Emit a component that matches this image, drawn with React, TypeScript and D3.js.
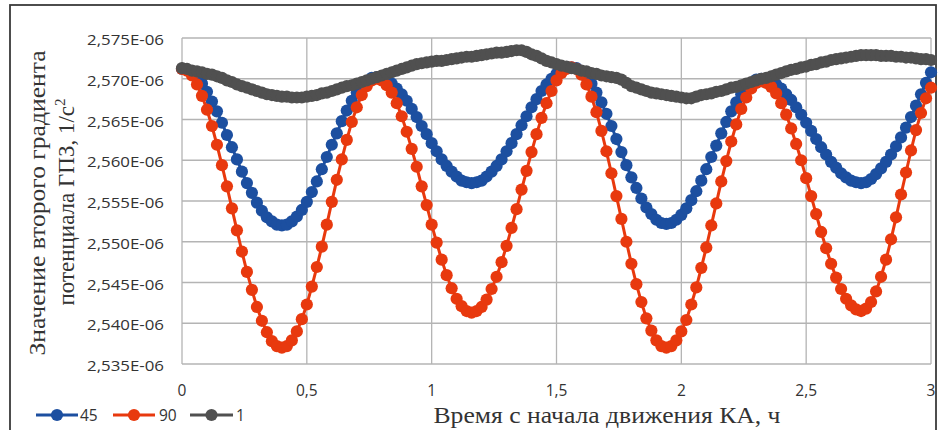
import React from "react";
import * as d3 from "d3";

// values in units of 1E-06 (1/s^2); sampled every TIME_STEP_H hours from 0 to 3 h
const TIME_STEP_H = 0.02;

const series45 = [
  2.5712, 2.5711, 2.5707, 2.5702, 2.5694, 2.5684, 2.5672, 2.5660, 2.5646, 2.5631,
  2.5616, 2.5601, 2.5586, 2.5572, 2.5560, 2.5548, 2.5538, 2.5530, 2.5525, 2.5521,
  2.5520,
  2.5521, 2.5525, 2.5531, 2.5539, 2.5549, 2.5561, 2.5574, 2.5589, 2.5604, 2.5619,
  2.5633, 2.5648, 2.5661, 2.5673, 2.5683, 2.5691, 2.5697, 2.5701, 2.5702,
  2.5701, 2.5698, 2.5694, 2.5688, 2.5681, 2.5673, 2.5663, 2.5653, 2.5642, 2.5632,
  2.5621, 2.5611, 2.5601, 2.5593, 2.5586, 2.5580, 2.5575, 2.5573, 2.5572,
  2.5573, 2.5575, 2.5580, 2.5586, 2.5593, 2.5601, 2.5611, 2.5621, 2.5632, 2.5643,
  2.5654, 2.5665, 2.5675, 2.5685, 2.5693, 2.5700, 2.5706, 2.5711, 2.5713, 2.5714,
  2.5713, 2.5709, 2.5702, 2.5694, 2.5683, 2.5671, 2.5657, 2.5642, 2.5626, 2.5610,
  2.5594, 2.5579, 2.5566, 2.5553, 2.5542, 2.5534, 2.5527, 2.5523, 2.5522,
  2.5523, 2.5527, 2.5533, 2.5541, 2.5551, 2.5562, 2.5575, 2.5589, 2.5604, 2.5618,
  2.5633, 2.5647, 2.5660, 2.5671, 2.5681, 2.5689, 2.5695, 2.5699, 2.5700,
  2.5699, 2.5697, 2.5693, 2.5688, 2.5681, 2.5674, 2.5665, 2.5656, 2.5646, 2.5636,
  2.5626, 2.5616, 2.5607, 2.5598, 2.5591, 2.5584, 2.5579, 2.5575, 2.5573, 2.5572,
  2.5573, 2.5577, 2.5583, 2.5590, 2.5598, 2.5607, 2.5617, 2.5628, 2.5640, 2.5653,
  2.5667, 2.5681, 2.5695, 2.5708,
];

const series90 = [
  2.5712, 2.5710, 2.5704, 2.5693, 2.5679, 2.5662, 2.5642, 2.5619, 2.5594, 2.5568,
  2.5541, 2.5514, 2.5488, 2.5463, 2.5441, 2.5420, 2.5403, 2.5389, 2.5378, 2.5372,
  2.5370,
  2.5372, 2.5379, 2.5390, 2.5405, 2.5423, 2.5445, 2.5469, 2.5494, 2.5521, 2.5549,
  2.5576, 2.5601, 2.5625, 2.5647, 2.5665, 2.5680, 2.5691, 2.5698, 2.5700,
  2.5698, 2.5692, 2.5683, 2.5670, 2.5654, 2.5635, 2.5614, 2.5592, 2.5568, 2.5545,
  2.5521, 2.5499, 2.5478, 2.5459, 2.5443, 2.5430, 2.5421, 2.5415, 2.5413,
  2.5415, 2.5420, 2.5429, 2.5442, 2.5457, 2.5475, 2.5495, 2.5517, 2.5540, 2.5564,
  2.5587, 2.5610, 2.5632, 2.5652, 2.5670, 2.5685, 2.5698, 2.5707, 2.5712, 2.5714,
  2.5712, 2.5705, 2.5693, 2.5678, 2.5659, 2.5636, 2.5611, 2.5584, 2.5556, 2.5528,
  2.5500, 2.5473, 2.5448, 2.5426, 2.5406, 2.5391, 2.5379, 2.5372, 2.5370,
  2.5372, 2.5379, 2.5390, 2.5404, 2.5423, 2.5444, 2.5468, 2.5493, 2.5520, 2.5547,
  2.5574, 2.5599, 2.5623, 2.5644, 2.5663, 2.5677, 2.5688, 2.5695, 2.5697,
  2.5695, 2.5690, 2.5682, 2.5670, 2.5656, 2.5639, 2.5620, 2.5600, 2.5578, 2.5556,
  2.5534, 2.5512, 2.5492, 2.5473, 2.5456, 2.5442, 2.5430, 2.5422, 2.5417, 2.5415,
  2.5418, 2.5426, 2.5439, 2.5457, 2.5478, 2.5503, 2.5530, 2.5558, 2.5585, 2.5612,
  2.5637, 2.5658, 2.5676, 2.5689,
];

const series1 = [
  2.5713, 2.5712, 2.5710, 2.5709, 2.5708, 2.5706, 2.5705, 2.5703, 2.5701, 2.5698,
  2.5696, 2.5693, 2.5691, 2.5689, 2.5687, 2.5685, 2.5683, 2.5681, 2.5680, 2.5679,
  2.5678, 2.5678, 2.5677, 2.5677, 2.5677, 2.5678, 2.5679, 2.5680, 2.5682, 2.5683,
  2.5685, 2.5687, 2.5689, 2.5691, 2.5692, 2.5694, 2.5696, 2.5698, 2.5700, 2.5702,
  2.5704, 2.5706, 2.5708, 2.5710, 2.5712, 2.5714, 2.5716, 2.5718, 2.5719, 2.5720,
  2.5721, 2.5722, 2.5722, 2.5723, 2.5724, 2.5725, 2.5726, 2.5727, 2.5727, 2.5728,
  2.5729, 2.5730, 2.5731, 2.5732, 2.5732, 2.5733, 2.5734, 2.5735, 2.5735, 2.5733,
  2.5730, 2.5728, 2.5725, 2.5722, 2.5720, 2.5718, 2.5716, 2.5715, 2.5713, 2.5712,
  2.5710, 2.5709, 2.5707, 2.5706, 2.5704, 2.5703, 2.5702, 2.5701, 2.5699, 2.5695,
  2.5691, 2.5689, 2.5687, 2.5685, 2.5683, 2.5682, 2.5681, 2.5680, 2.5679, 2.5678,
  2.5677, 2.5676, 2.5676, 2.5678, 2.5680, 2.5681, 2.5682, 2.5684, 2.5685, 2.5687,
  2.5689, 2.5690, 2.5692, 2.5694, 2.5696, 2.5698, 2.5700, 2.5701, 2.5703, 2.5705,
  2.5707, 2.5709, 2.5711, 2.5712, 2.5714, 2.5715, 2.5717, 2.5718, 2.5720, 2.5721,
  2.5723, 2.5724, 2.5725, 2.5726, 2.5727, 2.5728, 2.5729, 2.5729, 2.5729, 2.5729,
  2.5728, 2.5728, 2.5728, 2.5727, 2.5727, 2.5726, 2.5726, 2.5725, 2.5724, 2.5724,
  2.5723,
];

const seriesNames = ["45", "90", "1"];
const seriesColors = ["#1C4FA0", "#E8390E", "#505050"];
const yTicks = [2.535, 2.54, 2.545, 2.55, 2.555, 2.56, 2.565, 2.57, 2.575];
const xTicks = [0, 0.5, 1, 1.5, 2, 2.5, 3];
const yTitle1 = "Значение второго градиента";
const yTitle2 = "потенциала ГПЗ, 1/с";
const xTitle = "Время с начала движения КА, ч";

const W = 940;
const H = 430;
const PL = 182, PR = 931, PT = 38, PB = 364;

export default function App() {
  const x = d3.scaleLinear().domain([0, 3]).range([PL, PR]);
  const y = d3.scaleLinear().domain([2.535, 2.575]).range([PB, PT]);
  const all = [series45, series90, series1];
  const line = d3
    .line<number>()
    .x((_, i) => x(i * TIME_STEP_H))
    .y((d) => y(d));
  const fmtY = (v: number) => d3.format(".3f")(v).replace(".", ",") + "E-06";
  const fmtX = (v: number) => String(v).replace(".", ",");
  const sans = "'Open Sans', 'Noto Sans', sans-serif";
  const serif = "'Liberation Serif', 'DejaVu Serif', serif";
  const grid = "#b4b4b4";
  const R = 6.1;
  const txt = "#333";

  const legendItems = [
    { x1: 36, x2: 78, tx: 80 },
    { x1: 113, x2: 155, tx: 159 },
    { x1: 190, x2: 233, tx: 236 },
  ];

  return (
    <svg
      width={W}
      height={H}
      style={{ position: "absolute", left: 0, top: 0, background: "#fff" }}
    >
      <rect x={0} y={0} width={W} height={H} fill="#fff" />
      <rect x={10} y={5} width={926} height={440} fill="none" stroke="#3a3a3a" strokeWidth={1.8} />

      {/* grid */}
      {yTicks.map((t) => (
        <line key={"gy" + t} x1={PL} x2={PR} y1={y(t)} y2={y(t)} stroke={grid} strokeWidth={1.3} />
      ))}
      {xTicks.map((t) => (
        <line key={"gx" + t} x1={x(t)} x2={x(t)} y1={PT} y2={PB} stroke={grid} strokeWidth={1.3} />
      ))}

      {/* tick labels */}
      {yTicks.map((t) => (
        <text
          key={"ly" + t}
          x={164}
          y={y(t) + 7}
          textAnchor="end"
          fontFamily={sans}
          fontSize={15}
          fill={txt}
          textLength={77}
          lengthAdjust="spacingAndGlyphs"
        >
          {fmtY(t)}
        </text>
      ))}
      {xTicks.map((t) => (
        <text
          key={"lx" + t}
          x={x(t)}
          y={396}
          textAnchor="middle"
          fontFamily={sans}
          fontSize={15.5}
          fill={txt}
        >
          {fmtX(t)}
        </text>
      ))}

      {/* series */}
      {all.map((s, si) => (
        <g key={"s" + si}>
          <path d={line(s) || ""} fill="none" stroke={seriesColors[si]} strokeWidth={3} />
          {s.map((v, i) => (
            <circle key={i} cx={x(i * TIME_STEP_H)} cy={y(v)} r={R} fill={seriesColors[si]} />
          ))}
        </g>
      ))}

      {/* axis titles */}
      <text
        transform="translate(45,203) rotate(-90)"
        textAnchor="middle"
        fontFamily={serif}
        fontSize={23}
        fill={txt}
        textLength={305}
        lengthAdjust="spacingAndGlyphs"
      >
        {yTitle1}
      </text>
      <text
        transform="translate(74,202) rotate(-90)"
        textAnchor="middle"
        fontFamily={serif}
        fontSize={23}
        fill={txt}
      >
        {yTitle2}
        <tspan dy={-9} fontSize={15}>2</tspan>
      </text>
      <text
        x={607}
        y={423}
        textAnchor="middle"
        fontFamily={serif}
        fontSize={23}
        fill={txt}
        textLength={347}
        lengthAdjust="spacingAndGlyphs"
      >
        {xTitle}
      </text>

      {/* legend */}
      {legendItems.map((it, i) => (
        <g key={"lg" + i}>
          <line x1={it.x1} x2={it.x2} y1={415} y2={415} stroke={seriesColors[i]} strokeWidth={3} />
          <circle cx={(it.x1 + it.x2) / 2} cy={415} r={R} fill={seriesColors[i]} />
          <text x={it.tx} y={421} fontFamily={sans} fontSize={15.5} fill={txt}>
            {seriesNames[i]}
          </text>
        </g>
      ))}
    </svg>
  );
}
